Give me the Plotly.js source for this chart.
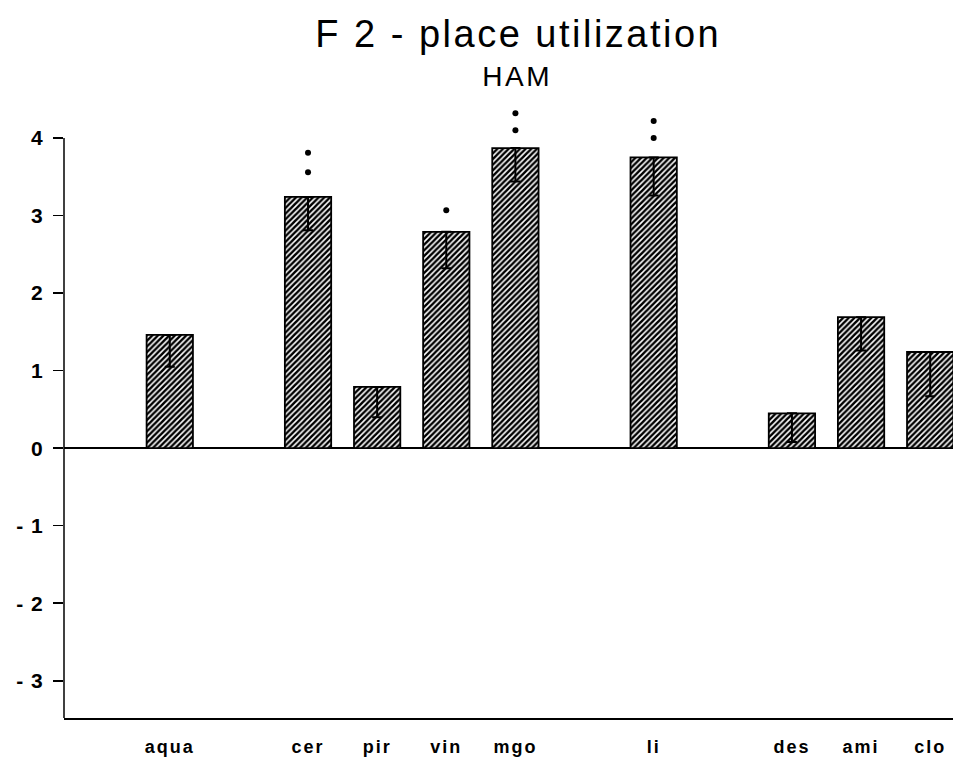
<!DOCTYPE html>
<html>
<head>
<meta charset="utf-8">
<script src="https://cdn.plot.ly/plotly-3.0.1.min.js"></script>
<style>
html,body{margin:0;padding:0;background:#fff;}
#chart{width:953px;height:758px;}
#chart .xtick text{letter-spacing:2px;}
#chart .ytick text{letter-spacing:1px;}
#chart .annotation-text{letter-spacing:2.5px;}
</style>
</head>
<body>
<div id="chart"></div>
<script>
// slot order on the x axis (blank slots leave gaps between groups)
const slots = ['aqua', 'gap1', 'cer', 'pir', 'vin', 'mgo', 'gap2', 'li', 'gap3', 'des', 'ami', 'clo'];
const categories = ['aqua', 'cer', 'pir', 'vin', 'mgo', 'li', 'des', 'ami', 'clo'];
const values = [1.46, 3.24, 0.79, 2.79, 3.87, 3.75, 0.45, 1.69, 1.24];
const errMinus = [0.41, 0.43, 0.39, 0.47, 0.43, 0.49, 0.37, 0.43, 0.57];
const sigX = ['cer', 'cer', 'vin', 'mgo', 'mgo', 'li', 'li'];
const sigY = [3.81, 3.56, 3.07, 4.32, 4.10, 4.22, 4.00];
const yTickVals = [-3, -2, -1, 0, 1, 2, 3, 4];
const yTickText = ['- 3', '- 2', '- 1', '0', '1', '2', '3', '4'];
const yMin = -3.48, yAxisTop = 4, yMax = 4.4;

const traces = [
  {
    type: 'bar',
    x: categories,
    y: values,
    width: 0.67,
    marker: {
      color: '#ffffff',
      line: {color: '#000', width: 1.8},
      pattern: {shape: '/', fgcolor: '#000', bgcolor: '#fff', size: 4, solidity: 0.62}
    },
    error_y: {
      type: 'data', symmetric: false,
      array: categories.map(() => 0),
      arrayminus: errMinus,
      color: '#000', thickness: 2, width: 5
    },
    hoverinfo: 'skip'
  },
  {
    type: 'scatter',
    mode: 'markers',
    x: sigX,
    y: sigY,
    cliponaxis: false,
    marker: {color: '#000', size: 6},
    hoverinfo: 'skip'
  }
];

const layout = {
  width: 953, height: 758,
  margin: {l: 64, r: 0, t: 107, b: 40},
  paper_bgcolor: '#fff', plot_bgcolor: '#fff',
  showlegend: false,
  bargap: 0,
  xaxis: {
    type: 'category',
    categoryorder: 'array',
    categoryarray: slots,
    tickvals: categories,
    ticktext: categories,
    range: [-1.53, 11.33],
    showgrid: false, zeroline: false,
    showline: true, linecolor: '#000', linewidth: 2,
    ticks: '',
    ticklabelstandoff: 11,
    tickfont: {family: 'Liberation Sans, Arial, sans-serif', size: 18, color: '#000', weight: 'bold'}
  },
  yaxis: {
    range: [yMin, yMax],
    tickvals: yTickVals,
    ticktext: yTickText,
    showgrid: false,
    zeroline: true, zerolinecolor: '#000', zerolinewidth: 1.5,
    showline: false,
    ticks: 'outside', ticklen: 10, tickwidth: 1.5, tickcolor: '#000',
    ticklabelstandoff: 5,
    tickfont: {family: 'Liberation Sans, Arial, sans-serif', size: 21, color: '#000', weight: 'bold'}
  },
  shapes: [
    {type: 'line', xref: 'paper', yref: 'y', x0: 0, x1: 0, y0: yMin, y1: yAxisTop,
     line: {color: '#000', width: 1.5}}
  ],
  annotations: [
    {text: 'F\u00a02\u00a0-\u00a0place\u00a0utilization', xref: 'paper', yref: 'paper', x: 0.511, y: 1, yshift: 73,
     xanchor: 'center', yanchor: 'middle', showarrow: false,
     font: {family: 'Liberation Sans, Arial, sans-serif', size: 38, color: '#000'}},
    {text: 'HAM', xref: 'paper', yref: 'paper', x: 0.509, y: 1, yshift: 31,
     xanchor: 'center', yanchor: 'middle', showarrow: false,
     font: {family: 'Liberation Sans, Arial, sans-serif', size: 28, color: '#000'}}
  ]
};

Plotly.newPlot('chart', traces, layout, {staticPlot: true});
</script>
</body>
</html>
